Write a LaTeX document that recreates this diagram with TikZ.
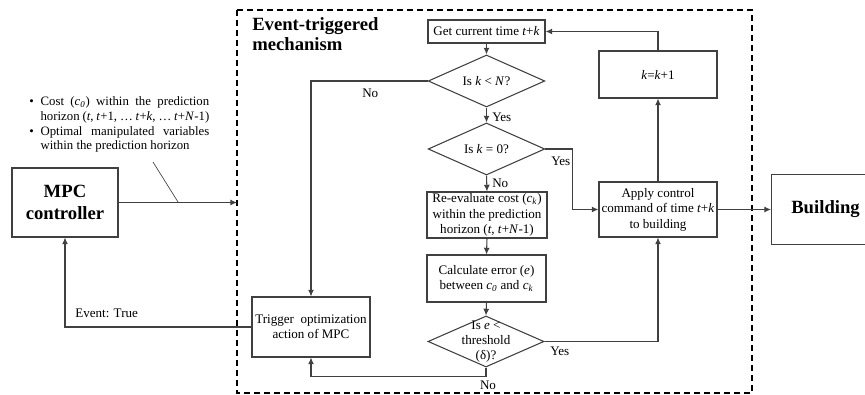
\documentclass[tikz,border=0pt]{standalone}
\usepackage{fontspec}
\setmainfont{Liberation Serif}
\usepackage{tikz}
\usetikzlibrary{shapes.geometric,arrows.meta}
\newcommand{\iv}[1]{\textit{#1}}
\tikzset{
    line/.style={draw=black!75,line width=0.8pt},
    arr/.style={line,-{Latex[length=5pt,width=4.5pt]}},
    box/.style={line,rectangle,inner sep=0pt,align=center,font=\fontsize{9.8}{11.6}\selectfont},
    decision/.style={line,diamond,inner sep=0pt,minimum width=87.5pt,minimum height=39pt},
    lbl/.style={inner sep=0.75pt,font=\fontsize{9.8}{11.6}\selectfont},
    bigbox/.style={line,rectangle,inner sep=0pt,align=center,font=\fontsize{14}{16.5}\selectfont\bfseries}
}
\begin{document}
\begin{tikzpicture}[x=0.75pt,y=0.75pt,yscale=-1,xscale=1]
\useasboundingbox (0,0) rectangle (865,395);

%Dashed frame of the mechanism
\draw [line width=1pt,dash pattern={on 4.5pt off 3pt}] (237,10) rectangle (752,393);
\node [anchor=north west,inner sep=0pt,align=left,font=\fontsize{14}{15}\selectfont\bfseries] (title) at (252,17) {Event-triggered\\mechanism};

%Blocks
\node [bigbox,minimum width=79.5pt,minimum height=51.75pt] (mpc) at (65,202.5) {MPC\\controller};
\node [bigbox,minimum width=81pt,minimum height=52.5pt,anchor=west] (bld) at (771,209.5) {Building};

\node [box,minimum width=87.75pt,minimum height=17.25pt] (get) at (486.5,31.5) {Get current time \iv{t}+\iv{k}};
\node [decision] (dec1) at (486.5,81) {};
\node [lbl] (dec1txt) at (dec1) {Is \iv{k} < \iv{N}?};
\node [decision] (dec2) at (486.5,149) {};
\node [lbl] (dec2txt) at (dec2) {Is \iv{k} = 0?};
\node [box,minimum width=90pt,minimum height=34.5pt] (reval) at (487,215) {Re-evaluate cost (\iv{c}\textsubscript{\iv{k}})\\within the prediction\\horizon (\iv{t}, \iv{t}+\iv{N}-1)};
\node [box,minimum width=89.25pt,minimum height=35.25pt] (calc) at (486.5,278.5) {Calculate error (\iv{e})\\between \iv{c}\textsubscript{\iv{0}} and \iv{c}\textsubscript{\iv{k}}};
\node [decision,minimum width=87pt,minimum height=38.25pt] (dec3) at (486,341.5) {};
\node [lbl,align=center,font=\fontsize{9.8}{11.2}\selectfont] (dec3txt) at (486,342) {Is \iv{e} <\\threshold\\(δ)?};
\node [box,minimum width=88.5pt,minimum height=45pt] (trig) at (311,327) {Trigger\ \ optimization\\action of MPC};
\node [box,minimum width=88.5pt,minimum height=35.25pt] (kinc) at (658,74.5) {\iv{k}=\iv{k}+1};
\node [box,minimum width=88.5pt,minimum height=41.25pt] (apply) at (658,209.5) {Apply control\\command of time \iv{t}+\iv{k}\\to building};

%Information passed by the controller
\node [anchor=north west,inner sep=0pt,text width=135pt,align=justify,font=\fontsize{9.6}{11.2}\selectfont] (info) at (29,96) {%
\hangindent=8.5pt\hangafter=1\noindent\makebox[8.5pt][l]{\textbullet}Cost (\iv{c}\textsubscript{\iv{0}}) within the prediction horizon (\iv{t}, \iv{t}+1, \ldots{} \iv{t}+\iv{k}, \ldots{} \mbox{\iv{t}+\iv{N}-1})\par
\hangindent=8.5pt\hangafter=1\noindent\makebox[8.5pt][l]{\textbullet}Optimal manipulated variables within the prediction horizon\par};
\coordinate (notefoot) at (153,162);
\coordinate (notehead) at (178,202);
\coordinate (mpcin) at (237,202.5);

%Connectors
\draw [arr] (mpc.east) -- (mpcin);
\draw [line,line width=0.5pt] (notefoot) -- (notehead);
\draw [arr] (kinc.north) |- (get.east);
\draw [arr] (get.south) -- (dec1.north);
\draw [arr] (dec1.west) -| (trig.north);
\draw [arr] (dec1.south) -- (dec2.north);
\draw [arr] (dec2.east) -- ++(27,0) |- (apply.west);
\draw [arr] (dec2.south) -- (reval.north);
\draw [arr] (reval.south) -- (calc.north);
\draw [arr] (calc.south) -- (dec3.north);
\draw [arr] (dec3.east) -| (apply.south);
\draw [arr] (dec3.south) -- ++(0,9) -| (trig.south);
\draw [arr] (apply.north) -- (kinc.south);
\draw [arr] (apply.east) -- (bld.west);
\draw [arr] (trig.west) -| (mpc.south);

% Text Node
\node [lbl,anchor=west] (no1) at (361,93) {No};
\node [lbl,anchor=west] (yes1) at (491,117) {Yes};
\node [lbl,anchor=west] (yes2) at (550,161) {Yes};
\node [lbl,anchor=west] (no2) at (491,183) {No};
\node [lbl,anchor=west] (yes3) at (549,351) {Yes};
\node [lbl] (no3) at (488,385) {No};
\node [lbl,anchor=west] (evt) at (74,313) {Event: True};

\end{tikzpicture}
\end{document}
